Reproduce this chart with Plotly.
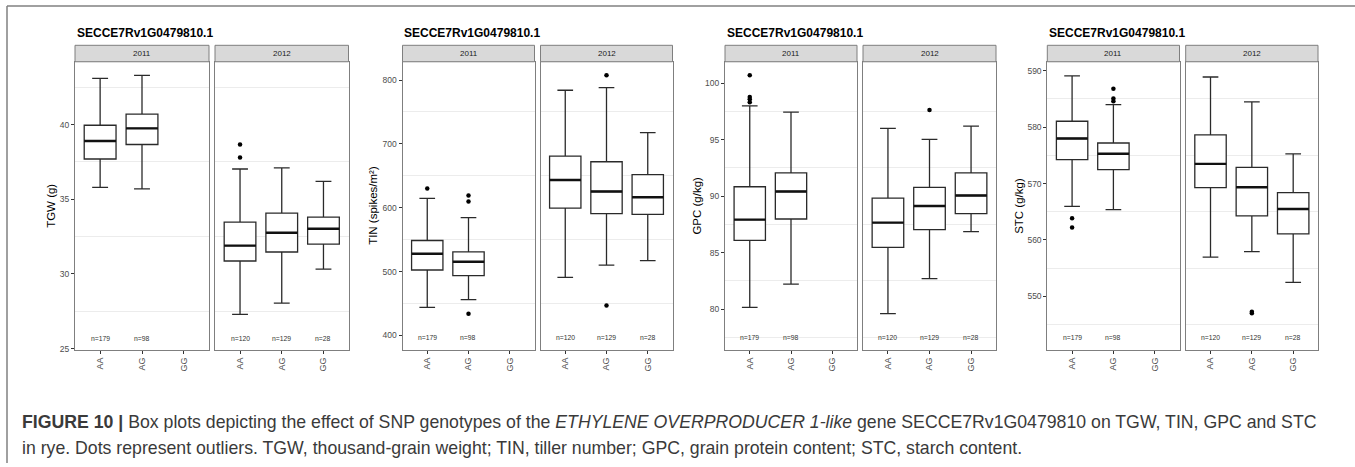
import plotly.graph_objects as go

# ---------------- data ----------------
genotypes = ["AA", "AG", "GG"]
years = ["2011", "2012"]
gene = "SECCE7Rv1G0479810.1"
trait_titles = ["TGW (g)", "TIN (spikes/m²)", "GPC (g/kg)", "STC (g/kg)"]
n_counts = {"2011": [179, 98, None], "2012": [120, 129, 28]}

# stats per genotype: [lower whisker, q1, median, q3, upper whisker]
tgw_2011 = [[35.8, 37.7, 38.9, 39.96, 43.1], [35.7, 38.67, 39.75, 40.7, 43.3], None]
tgw_2012 = [[27.3, 30.87, 31.9, 33.47, 37.03], [28.05, 31.47, 32.76, 34.07, 37.1], [30.33, 32.0, 33.03, 33.8, 36.2]]
tgw_out_2011 = [[], [], []]
tgw_out_2012 = [[37.8, 38.67], [], []]

tin_2011 = [[444, 502.5, 527.8, 548.7, 614.5], [456, 493.6, 515.4, 531, 584.4], None]
tin_2012 = [[491, 599.4, 643.5, 680.9, 784], [510, 590.7, 625.4, 672, 788], [517, 589.6, 616.5, 651.8, 717.6]]
tin_out_2011 = [[630], [609.8, 619, 434], []]
tin_out_2012 = [[], [807.3, 447], []]

gpc_2011 = [[80.15, 86.07, 87.91, 90.82, 97.98], [82.2, 87.97, 90.4, 92.05, 97.42], None]
gpc_2012 = [[79.6, 85.45, 87.65, 89.82, 95.99], [82.7, 87.03, 89.12, 90.76, 95.02], [86.86, 88.44, 90.05, 92.05, 96.19]]
gpc_out_2011 = [[98.3, 98.57, 98.77, 100.68], [], []]
gpc_out_2012 = [[], [97.62], []]

stc_2011 = [[565.96, 574.26, 578.0, 581.05, 589.1], [565.4, 572.46, 575.3, 577.2, 584.0], None]
stc_2012 = [[556.95, 569.3, 573.5, 578.65, 588.9], [557.95, 564.26, 569.35, 572.86, 584.5], [552.5, 561.1, 565.5, 568.4, 575.26]]
stc_out_2011 = [[562.2, 563.86], [584.6, 585.1, 586.8], []]
stc_out_2012 = [[], [547.0, 547.3], []]

y_ranges = [[24.91, 44.21], [377.2, 828.6], [76.38, 101.88], [540.5, 591.6]]
y_ticks = [[25, 30, 35, 40], [400, 500, 600, 700, 800], [80, 85, 90, 95, 100], [550, 560, 570, 580, 590]]
minor_tick0 = [27.5, 450, 77.5, 545]
minor_dtick = [5, 100, 5, 10]
n_label_y = [25.67, 396.3, 77.47, 542.7]

stats = [(tgw_2011, tgw_2012), (tin_2011, tin_2012), (gpc_2011, gpc_2012), (stc_2011, stc_2012)]
outs = [(tgw_out_2011, tgw_out_2012), (tin_out_2011, tin_out_2012),
        (gpc_out_2011, gpc_out_2012), (stc_out_2011, stc_out_2012)]

# ---------------- layout geometry (pixels) ----------------
W, H = 1355, 467
panel_px = [[(75, 209), (215, 348.5)],
            [(402.5, 534.5), (540.5, 672.5)],
            [(725, 857), (863, 996)],
            [(1047.3, 1179.5), (1185.7, 1318)]]
plot_top, plot_bot = 62.3, 353
strip_top = 45.7
ytitle_x = [51, 373, 696.7, 1019]
BOXW = 0.76
FONT = "Liberation Sans, Arial, sans-serif"

def px(x):
    return x / W

def py(y):
    return 1 - y / H

fig = go.Figure()
layout = dict(width=W, height=H, margin=dict(l=0, r=0, t=0, b=0),
              paper_bgcolor="white", plot_bgcolor="white", showlegend=False,
              boxmode="overlay", font=dict(family=FONT))
shapes, annotations = [], []

k = 0
for t in range(4):
    for yi, yr in enumerate(years):
        k += 1
        xa = "x" if k == 1 else f"x{k}"
        ya = "y" if k == 1 else f"y{k}"
        xkey = "xaxis" if k == 1 else f"xaxis{k}"
        ykey = "yaxis" if k == 1 else f"yaxis{k}"
        x0, x1 = panel_px[t][yi]
        layout[xkey] = dict(domain=[px(x0), px(x1)], anchor=ya, range=[-0.6, 2.6],
                            tickmode="array", tickvals=[0, 1, 2], ticktext=genotypes,
                            tickangle=-90, ticks="outside", ticklen=3, tickcolor="#333",
                            tickfont=dict(size=9, color="#4d4d4d"),
                            showgrid=False, zeroline=False, showline=True, mirror=True,
                            linecolor="#7f7f7f", linewidth=1)
        yd = dict(domain=[py(plot_bot), py(plot_top)], anchor=xa, range=y_ranges[t],
                  tickmode="array", tickvals=y_ticks[t], showgrid=False, zeroline=False,
                  showline=True, mirror=True, linecolor="#7f7f7f", linewidth=1,
                  minor=dict(showgrid=True, gridcolor="#ececec", gridwidth=1,
                             tick0=minor_tick0[t], dtick=minor_dtick[t]))
        if yi == 0:
            yd.update(ticks="outside", ticklen=3, tickcolor="#333",
                      tickfont=dict(size=8.5, color="#4d4d4d"))
        else:
            prev = "y" if k - 1 == 1 else f"y{k-1}"
            yd.update(matches=prev, showticklabels=False, ticks="")
        layout[ykey] = yd

        st = stats[t][yi]
        idx = [i for i in range(3) if st[i] is not None]
        fig.add_trace(go.Box(
            x=idx,
            lowerfence=[st[i][0] for i in idx], q1=[st[i][1] for i in idx],
            median=[st[i][2] for i in idx], q3=[st[i][3] for i in idx],
            upperfence=[st[i][4] for i in idx],
            width=BOXW, fillcolor="white", boxpoints=False,
            line=dict(color="#2a2a2a", width=1.3), xaxis=xa, yaxis=ya, hoverinfo="skip"))
        # thick median
        mx, my = [], []
        for i in idx:
            mx += [i - BOXW / 2, i + BOXW / 2, None]
            my += [st[i][2], st[i][2], None]
        fig.add_trace(go.Scatter(x=mx, y=my, mode="lines", line=dict(color="#111", width=2.4),
                                 xaxis=xa, yaxis=ya, hoverinfo="skip"))
        # outliers
        ox, oy = [], []
        for i in range(3):
            for v in outs[t][yi][i]:
                ox.append(i)
                oy.append(v)
        if ox:
            fig.add_trace(go.Scatter(x=ox, y=oy, mode="markers",
                                     marker=dict(color="black", size=4.5), xaxis=xa, yaxis=ya,
                                     hoverinfo="skip"))
        # n labels
        for i in range(3):
            n = n_counts[yr][i]
            if n is not None:
                annotations.append(dict(x=i, y=n_label_y[t], xref=xa, yref=ya, text=f"n={n}",
                                        showarrow=False, xanchor="center", yanchor="middle",
                                        font=dict(size=6.8, color="#333")))
        # strip
        shapes.append(dict(type="rect", xref="paper", yref="paper", x0=px(x0), x1=px(x1),
                           y0=py(plot_top), y1=py(strip_top), fillcolor="#d9d9d9",
                           line=dict(color="#7f7f7f", width=1), layer="above"))
        annotations.append(dict(x=px((x0 + x1) / 2), y=py((plot_top + strip_top) / 2),
                                xref="paper", yref="paper", text=yr, showarrow=False,
                                xanchor="center", yanchor="middle",
                                font=dict(size=8, color="#1a1a1a")))
    # title and y title
    annotations.append(dict(x=px(panel_px[t][0][0]), y=py(33), xref="paper", yref="paper",
                            text=f"<b>{gene}</b>", showarrow=False, xanchor="left",
                            yanchor="middle", font=dict(size=12, color="black")))
    annotations.append(dict(x=px(ytitle_x[t]), y=py((plot_top + plot_bot) / 2), xref="paper",
                            yref="paper", text=trait_titles[t], showarrow=False, textangle=-90,
                            xanchor="center", yanchor="middle",
                            font=dict(size=11.5, color="black")))

# frame (top and left lines)
shapes.append(dict(type="line", xref="paper", yref="paper", x0=px(7), x1=1, y0=py(6), y1=py(6),
                   line=dict(color="#808080", width=1.5)))
shapes.append(dict(type="line", xref="paper", yref="paper", x0=px(7), x1=px(7), y0=0, y1=py(6),
                   line=dict(color="#808080", width=1.5)))

caption1 = ("<b>FIGURE 10 |</b> Box plots depicting the effect of SNP genotypes of the "
            "<i>ETHYLENE OVERPRODUCER 1-like</i> gene SECCE7Rv1G0479810 on TGW, TIN, GPC and STC")
caption2 = ("in rye. Dots represent outliers. TGW, thousand-grain weight; TIN, tiller number; "
            "GPC, grain protein content; STC, starch content.")
annotations.append(dict(x=px(20), y=py(426), xref="paper", yref="paper", text=caption1,
                        showarrow=False, xanchor="left", yanchor="middle",
                        font=dict(size=17.7, color="#3a3a3a")))
annotations.append(dict(x=px(20), y=py(452), xref="paper", yref="paper", text=caption2,
                        showarrow=False, xanchor="left", yanchor="middle",
                        font=dict(size=17.7, color="#3a3a3a")))

layout["shapes"] = shapes
layout["annotations"] = annotations
fig.update_layout(**layout)
fig.write_html("out.html")
